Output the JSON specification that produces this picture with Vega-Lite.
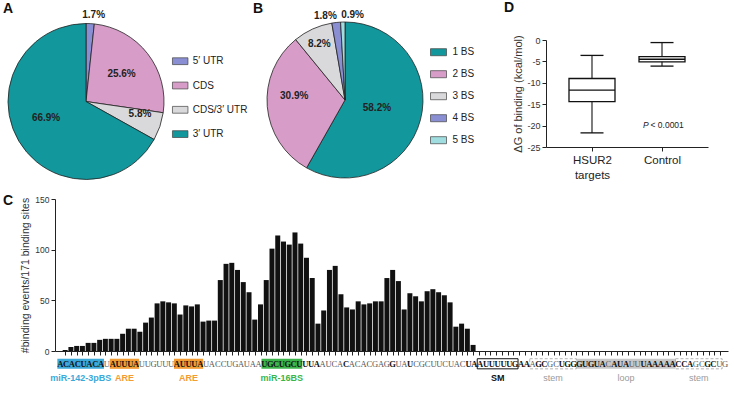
{
  "$schema": "https://vega.github.io/schema/vega-lite/v6.json",
  "padding": {"left": 3, "top": 0, "right": 0, "bottom": 0},
  "background": "white",
  "config": {
    "view": {"stroke": null},
    "font": "Liberation Sans",
    "axis": {"grid": false, "domainColor": "#222", "tickColor": "#222", "labelColor": "#333", "titleColor": "#333", "titleFontWeight": "normal", "minExtent": 0},
    "title": {"fontSize": 14, "fontWeight": "bold", "anchor": "start", "frame": "group", "color": "#111"}
  },
  "datasets": {
    "seq": [
      {"i":0,"nt":"A","b":1,"v":1},{"i":1,"nt":"C","b":1,"v":4},{"i":2,"nt":"A","b":1,"v":5},{"i":3,"nt":"C","b":1,"v":5},
      {"i":4,"nt":"U","b":1,"v":8},{"i":5,"nt":"A","b":1,"v":8},{"i":6,"nt":"C","b":1,"v":11},{"i":7,"nt":"A","b":1,"v":12},
      {"i":8,"nt":"U","b":0,"v":12},{"i":9,"nt":"A","b":1,"v":12},{"i":10,"nt":"U","b":1,"v":17},{"i":11,"nt":"U","b":1,"v":22},
      {"i":12,"nt":"U","b":1,"v":22},{"i":13,"nt":"A","b":1,"v":19},{"i":14,"nt":"U","b":0,"v":28},{"i":15,"nt":"U","b":0,"v":33},
      {"i":16,"nt":"G","b":0,"v":47},{"i":17,"nt":"U","b":0,"v":49},{"i":18,"nt":"U","b":0,"v":48},{"i":19,"nt":"U","b":0,"v":47},
      {"i":20,"nt":"A","b":1,"v":36},{"i":21,"nt":"U","b":1,"v":45},{"i":22,"nt":"U","b":1,"v":44},{"i":23,"nt":"U","b":1,"v":46},
      {"i":24,"nt":"A","b":1,"v":29},{"i":25,"nt":"U","b":0,"v":30},{"i":26,"nt":"A","b":0,"v":30},{"i":27,"nt":"C","b":0,"v":70},
      {"i":28,"nt":"C","b":0,"v":86},{"i":29,"nt":"U","b":0,"v":87},{"i":30,"nt":"G","b":0,"v":80},{"i":31,"nt":"A","b":0,"v":68},
      {"i":32,"nt":"U","b":0,"v":58},{"i":33,"nt":"A","b":0,"v":31},{"i":34,"nt":"A","b":0,"v":46},{"i":35,"nt":"U","b":1,"v":70},
      {"i":36,"nt":"G","b":1,"v":101},{"i":37,"nt":"C","b":1,"v":114},{"i":38,"nt":"U","b":1,"v":108},{"i":39,"nt":"G","b":1,"v":105},
      {"i":40,"nt":"C","b":1,"v":117},{"i":41,"nt":"U","b":1,"v":106},{"i":42,"nt":"U","b":1,"v":92},{"i":43,"nt":"U","b":1,"v":72},
      {"i":44,"nt":"A","b":1,"v":27},{"i":45,"nt":"A","b":0,"v":40},{"i":46,"nt":"U","b":0,"v":80},{"i":47,"nt":"C","b":0,"v":84},
      {"i":48,"nt":"A","b":0,"v":56},{"i":49,"nt":"C","b":1,"v":43},{"i":50,"nt":"A","b":0,"v":41},{"i":51,"nt":"C","b":0,"v":49},
      {"i":52,"nt":"A","b":0,"v":46},{"i":53,"nt":"C","b":0,"v":47},{"i":54,"nt":"G","b":0,"v":49},{"i":55,"nt":"A","b":0,"v":49},
      {"i":56,"nt":"G","b":0,"v":72},{"i":57,"nt":"G","b":1,"v":80},{"i":58,"nt":"U","b":0,"v":69},{"i":59,"nt":"A","b":0,"v":41},
      {"i":60,"nt":"U","b":1,"v":57},{"i":61,"nt":"C","b":0,"v":54},{"i":62,"nt":"G","b":0,"v":49},{"i":63,"nt":"C","b":0,"v":59},
      {"i":64,"nt":"U","b":0,"v":61},{"i":65,"nt":"U","b":0,"v":58},{"i":66,"nt":"C","b":0,"v":55},{"i":67,"nt":"U","b":0,"v":48},
      {"i":68,"nt":"A","b":0,"v":24},{"i":69,"nt":"C","b":0,"v":27},{"i":70,"nt":"U","b":1,"v":22},{"i":71,"nt":"A","b":1,"v":6},
      {"i":72,"nt":"A","b":1,"v":0},{"i":73,"nt":"U","b":1,"v":0},{"i":74,"nt":"U","b":1,"v":0},{"i":75,"nt":"U","b":1,"v":0},
      {"i":76,"nt":"U","b":1,"v":0},{"i":77,"nt":"U","b":1,"v":0},{"i":78,"nt":"G","b":1,"v":0},{"i":79,"nt":"A","b":1,"v":0},
      {"i":80,"nt":"A","b":1,"v":0},{"i":81,"nt":"A","b":0,"v":0},{"i":82,"nt":"G","b":1,"v":0},{"i":83,"nt":"C","b":1,"v":0},
      {"i":84,"nt":"G","b":0,"v":0},{"i":85,"nt":"C","b":0,"v":0},{"i":86,"nt":"U","b":1,"v":0},{"i":87,"nt":"G","b":1,"v":0},
      {"i":88,"nt":"G","b":1,"v":0},{"i":89,"nt":"G","b":1,"v":0},{"i":90,"nt":"U","b":1,"v":0},{"i":91,"nt":"G","b":1,"v":0},
      {"i":92,"nt":"U","b":1,"v":0},{"i":93,"nt":"A","b":1,"v":0},{"i":94,"nt":"C","b":0,"v":0},{"i":95,"nt":"A","b":1,"v":0},
      {"i":96,"nt":"U","b":1,"v":0},{"i":97,"nt":"A","b":1,"v":0},{"i":98,"nt":"U","b":0,"v":0},{"i":99,"nt":"U","b":0,"v":0},
      {"i":100,"nt":"U","b":1,"v":0},{"i":101,"nt":"A","b":1,"v":0},{"i":102,"nt":"A","b":1,"v":0},{"i":103,"nt":"A","b":1,"v":0},
      {"i":104,"nt":"A","b":1,"v":0},{"i":105,"nt":"A","b":1,"v":0},{"i":106,"nt":"C","b":1,"v":0},{"i":107,"nt":"C","b":1,"v":0},
      {"i":108,"nt":"A","b":1,"v":0},{"i":109,"nt":"G","b":0,"v":0},{"i":110,"nt":"C","b":0,"v":0},{"i":111,"nt":"G","b":1,"v":0},
      {"i":112,"nt":"C","b":1,"v":0},{"i":113,"nt":"U","b":0,"v":0},{"i":114,"nt":"G","b":0,"v":0}
    ],
    "regions": [
      {"name":"miR-142-3pBS","kind":"mir142","s":0,"e":7},
      {"name":"ARE","kind":"are","s":9,"e":13},
      {"name":"ARE","kind":"are","s":20,"e":24},
      {"name":"miR-16BS","kind":"mir16","s":35,"e":41},
      {"name":"SM","kind":"sm","s":72,"e":78},
      {"name":"stem","kind":"stem","s":81,"e":88},
      {"name":"loop","kind":"loop","s":89,"e":105},
      {"name":"stem","kind":"stem","s":106,"e":113}
    ]
  },
  "spacing": 12,
  "resolve": {"scale": {"color": "independent", "x": "independent", "y": "independent", "theta": "independent"}, "legend": {"color": "independent"}},
  "vconcat": [
    {
      "spacing": 29,
      "resolve": {"scale": {"color": "independent", "x": "independent", "y": "independent", "theta": "independent"}, "legend": {"color": "independent"}},
      "hconcat": [
        {
          "spacing": 5,
          "resolve": {"scale": {"color": "independent", "theta": "independent"}, "legend": {"color": "independent"}},
          "hconcat": [
            {
              "title": {"text": "A", "dx": -52, "offset": -6.5},
              "width": 62, "height": 123,
              "data": {"values": [
                {"region": "5′ UTR", "pct": 1.7, "o": 1, "lab": "1.7%"},
                {"region": "CDS", "pct": 25.6, "o": 2, "lab": "25.6%"},
                {"region": "CDS/3′ UTR", "pct": 5.8, "o": 3, "lab": "5.8%"},
                {"region": "3′ UTR", "pct": 66.9, "o": 4, "lab": "66.9%"}
              ]},
              "transform": [
                {"stack": "pct", "groupby": [], "sort": [{"field": "o", "order": "ascending"}], "as": ["p0", "p1"]},
                {"calculate": "(datum.p0 + datum.p1) / 2", "as": "pm"}
              ],
              "layer": [
                {"mark": {"type": "arc", "outerRadius": 78, "stroke": "#222", "strokeWidth": 0.8},
                 "encoding": {
                   "theta": {"field": "p0", "type": "quantitative", "scale": {"domain": [0, 100]}},
                   "theta2": {"field": "p1"},
                   "color": {"field": "region", "type": "nominal",
                   "scale": {"domain": ["5′ UTR", "CDS", "CDS/3′ UTR", "3′ UTR"], "range": ["#8a8fd3", "#d89cc8", "#d9d9db", "#12979c"]},
                   "legend": {"orient": "none", "legendX": 116.7, "legendY": 12.7, "title": null, "symbolType": "M-1,-0.44H1V0.44H-1Z", "symbolSize": 240, "symbolStrokeColor": "#444", "symbolStrokeWidth": 0.7, "symbolOpacity": 1, "labelFontSize": 10, "labelColor": "#222", "rowPadding": 10.3, "labelOffset": 4}}}},
                {"transform": [{"filter": "datum.o == 1"}],
                 "mark": {"type": "text", "radius": 87, "dx": 3, "fontSize": 10, "fontWeight": "bold", "color": "#222"},
                 "encoding": {"theta": {"field": "pm", "type": "quantitative", "scale": {"domain": [0, 100]}}, "text": {"field": "lab"}}},
                {"transform": [{"filter": "datum.o == 2"}],
                 "mark": {"type": "text", "radius": 45, "fontSize": 10, "fontWeight": "bold", "color": "#222"},
                 "encoding": {"theta": {"field": "pm", "type": "quantitative", "scale": {"domain": [0, 100]}}, "text": {"field": "lab"}}},
                {"transform": [{"filter": "datum.o == 3"}],
                 "mark": {"type": "text", "radius": 57, "dy": -6, "fontSize": 10, "fontWeight": "bold", "color": "#222"},
                 "encoding": {"theta": {"field": "pm", "type": "quantitative", "scale": {"domain": [0, 100]}}, "text": {"field": "lab"}}},
                {"transform": [{"filter": "datum.o == 4"}],
                 "mark": {"type": "text", "radius": 44, "dx": -2, "dy": -6, "fontSize": 10, "fontWeight": "bold", "color": "#222"},
                 "encoding": {"theta": {"field": "pm", "type": "quantitative", "scale": {"domain": [0, 100]}}, "text": {"field": "lab"}}}
              ]
            },
            {
              "title": {"text": "B", "dx": -14, "offset": -6},
              "width": 156, "height": 120,
              "data": {"values": [
                {"bs": "1 BS", "pct": 58.2, "o": 1, "lab": "58.2%"},
                {"bs": "2 BS", "pct": 30.9, "o": 2, "lab": "30.9%"},
                {"bs": "3 BS", "pct": 8.2, "o": 3, "lab": "8.2%"},
                {"bs": "4 BS", "pct": 1.8, "o": 4, "lab": "1.8%"},
                {"bs": "5 BS", "pct": 0.9, "o": 5, "lab": "0.9%"}
              ]},
              "transform": [
                {"stack": "pct", "groupby": [], "sort": [{"field": "o", "order": "ascending"}], "as": ["p0", "p1"]},
                {"calculate": "(datum.p0 + datum.p1) / 2", "as": "pm"}
              ],
              "layer": [
                {"mark": {"type": "arc", "outerRadius": 78, "stroke": "#222", "strokeWidth": 0.8},
                 "encoding": {
                   "theta": {"field": "p0", "type": "quantitative", "scale": {"domain": [0, 100]}},
                   "theta2": {"field": "p1"},
                   "color": {"field": "bs", "type": "nominal",
                   "scale": {"domain": ["1 BS", "2 BS", "3 BS", "4 BS", "5 BS"], "range": ["#12979c", "#d89cc8", "#d9d9db", "#8a8fd3", "#9fdde0"]},
                   "legend": {"orient": "none", "legendX": 163, "legendY": 3.7, "title": null, "symbolType": "M-1,-0.44H1V0.44H-1Z", "symbolSize": 256, "symbolStrokeColor": "#444", "symbolStrokeWidth": 0.7, "symbolOpacity": 1, "labelFontSize": 10, "labelColor": "#222", "rowPadding": 8, "labelOffset": 5.5}}}},
                {"transform": [{"filter": "datum.o == 1"}],
                 "mark": {"type": "text", "radius": 33, "fontSize": 10, "fontWeight": "bold", "color": "#222"},
                 "encoding": {"theta": {"field": "pm", "type": "quantitative", "scale": {"domain": [0, 100]}}, "text": {"field": "lab"}}},
                {"transform": [{"filter": "datum.o == 2"}],
                 "mark": {"type": "text", "radius": 51, "dy": -8, "fontSize": 10, "fontWeight": "bold", "color": "#222"},
                 "encoding": {"theta": {"field": "pm", "type": "quantitative", "scale": {"domain": [0, 100]}}, "text": {"field": "lab"}}},
                {"transform": [{"filter": "datum.o == 3"}],
                 "mark": {"type": "text", "radius": 62, "fontSize": 10, "fontWeight": "bold", "color": "#222"},
                 "encoding": {"theta": {"field": "pm", "type": "quantitative", "scale": {"domain": [0, 100]}}, "text": {"field": "lab"}}},
                {"transform": [{"filter": "datum.o == 4"}],
                 "mark": {"type": "text", "radius": 85, "dx": -10, "fontSize": 10, "fontWeight": "bold", "color": "#222"},
                 "encoding": {"theta": {"field": "pm", "type": "quantitative", "scale": {"domain": [0, 100]}}, "text": {"field": "lab"}}},
                {"transform": [{"filter": "datum.o == 5"}],
                 "mark": {"type": "text", "radius": 85, "dx": 10, "fontSize": 10, "fontWeight": "bold", "color": "#222"},
                 "encoding": {"theta": {"field": "pm", "type": "quantitative", "scale": {"domain": [0, 100]}}, "text": {"field": "lab"}}}
              ]
            }
          ]
        },
        {
          "title": {"text": "D", "dx": -42, "offset": 20},
          "width": 162, "height": 107,
          "data": {"values": [
            {"g": "HSUR2 targets", "min": -21.7, "q1": -14.4, "med": -11.7, "q3": -9.0, "max": -3.6},
            {"g": "Control", "min": -6.1, "q1": -5.1, "med": -4.5, "q3": -3.9, "max": -0.6}
          ]},
          "encoding": {
            "x": {"field": "g", "type": "nominal", "sort": null, "scale": {"type": "point", "padding": 0.657},
              "axis": {"title": null, "labelAngle": 0, "labelFontSize": 11.5, "labelColor": "#222", "labelPadding": 3, "tickSize": 4, "labelLineHeight": 15,
                "labelExpr": "datum.value == 'HSUR2 targets' ? ['HSUR2', 'targets'] : datum.value"}}
          },
          "layer": [
            {"mark": {"type": "rule", "stroke": "#111", "strokeWidth": 1.1},
             "encoding": {"y": {"field": "min", "type": "quantitative", "scale": {"domain": [-25, 0], "nice": false},
               "axis": {"title": "ΔG of binding (kcal/mol)", "titleFontSize": 11, "titlePadding": 3, "values": [0, -5, -10, -15, -20, -25], "labelExpr": "'' + datum.value", "labelFontSize": 9, "tickSize": 4, "labelPadding": 2}},
               "y2": {"field": "max"}}},
            {"mark": {"type": "bar", "width": 46, "fill": "white", "stroke": "#111", "strokeWidth": 1.3},
             "encoding": {"y": {"field": "q1", "type": "quantitative", "scale": {"domain": [-25, 0], "nice": false},
               "axis": {"title": "ΔG of binding (kcal/mol)", "titleFontSize": 11, "titlePadding": 3, "values": [0, -5, -10, -15, -20, -25], "labelExpr": "'' + datum.value", "labelFontSize": 9, "tickSize": 4, "labelPadding": 2}},
               "y2": {"field": "q3"}}},
            {"mark": {"type": "tick", "size": 46, "thickness": 1.3, "color": "#111", "opacity": 1},
             "encoding": {"y": {"field": "med", "type": "quantitative", "scale": {"domain": [-25, 0], "nice": false},
               "axis": {"title": "ΔG of binding (kcal/mol)", "titleFontSize": 11, "titlePadding": 3, "values": [0, -5, -10, -15, -20, -25], "labelExpr": "'' + datum.value", "labelFontSize": 9, "tickSize": 4, "labelPadding": 2}}}},
            {"mark": {"type": "tick", "size": 23, "thickness": 1.3, "color": "#111", "opacity": 1},
             "encoding": {"y": {"field": "min", "type": "quantitative", "scale": {"domain": [-25, 0], "nice": false},
               "axis": {"title": "ΔG of binding (kcal/mol)", "titleFontSize": 11, "titlePadding": 3, "values": [0, -5, -10, -15, -20, -25], "labelExpr": "'' + datum.value", "labelFontSize": 9, "tickSize": 4, "labelPadding": 2}}}},
            {"mark": {"type": "tick", "size": 23, "thickness": 1.3, "color": "#111", "opacity": 1},
             "encoding": {"y": {"field": "max", "type": "quantitative", "scale": {"domain": [-25, 0], "nice": false},
               "axis": {"title": "ΔG of binding (kcal/mol)", "titleFontSize": 11, "titlePadding": 3, "values": [0, -5, -10, -15, -20, -25], "labelExpr": "'' + datum.value", "labelFontSize": 9, "tickSize": 4, "labelPadding": 2}}}},
            {"data": {"values": [{"g": "Control", "y": -19.8, "t": "P"}]},
             "mark": {"type": "text", "align": "left", "dx": -19, "fontSize": 8.5, "fontStyle": "italic", "color": "#222"},
             "encoding": {"y": {"field": "y", "type": "quantitative", "scale": {"domain": [-25, 0], "nice": false},
               "axis": {"title": "ΔG of binding (kcal/mol)", "titleFontSize": 11, "titlePadding": 3, "values": [0, -5, -10, -15, -20, -25], "labelExpr": "'' + datum.value", "labelFontSize": 9, "tickSize": 4, "labelPadding": 2}}, "text": {"field": "t"}}},
            {"data": {"values": [{"g": "Control", "y": -19.8, "t": "< 0.0001"}]},
             "mark": {"type": "text", "align": "left", "dx": -11.5, "fontSize": 8.5, "color": "#222"},
             "encoding": {"y": {"field": "y", "type": "quantitative", "scale": {"domain": [-25, 0], "nice": false},
               "axis": {"title": "ΔG of binding (kcal/mol)", "titleFontSize": 11, "titlePadding": 3, "values": [0, -5, -10, -15, -20, -25], "labelExpr": "'' + datum.value", "labelFontSize": 9, "tickSize": 4, "labelPadding": 2}}, "text": {"field": "t"}}}
          ]
        }
      ]
    },
    {
      "spacing": 2,
      "resolve": {"scale": {"x": "independent", "y": "independent", "color": "independent"}},
      "vconcat": [
        {
          "title": {"text": "C", "dx": -52, "offset": -13},
          "width": 673, "height": 152,
          "data": {"name": "seq"},
          "mark": {"type": "bar", "width": 5.0, "color": "#111"},
          "encoding": {
            "x": {"field": "i", "type": "quantitative", "scale": {"domain": [-0.9, 114.5], "nice": false, "zero": false},
              "axis": {"title": null, "labels": false, "tickSize": 4,
                "values": [0,1,2,3,4,5,6,7,8,9,10,11,12,13,14,15,16,17,18,19,20,21,22,23,24,25,26,27,28,29,30,31,32,33,34,35,36,37,38,39,40,41,42,43,44,45,46,47,48,49,50,51,52,53,54,55,56,57,58,59,60,61,62,63,64,65,66,67,68,69,70,71,72,73,74,75,76,77,78,79,80,81,82,83,84,85,86,87,88,89,90,91,92,93,94,95,96,97,98,99,100,101,102,103,104,105,106,107,108,109,110,111,112,113,114]}},
            "y": {"field": "v", "type": "quantitative", "scale": {"domain": [0, 150], "nice": false},
              "axis": {"values": [0, 50, 100, 150], "title": "#binding events/171 binding sites", "titleFontSize": 10.5, "titlePadding": 4, "labelFontSize": 8.5, "tickSize": 4, "labelPadding": 2}}
          }
        },
        {
          "width": 673, "height": 26,
          "layer": [
            {"data": {"name": "regions"},
             "transform": [{"filter": "datum.kind == 'mir142' || datum.kind == 'are' || datum.kind == 'mir16' || datum.kind == 'loop'"}],
             "mark": {"type": "rect", "xOffset": -2.9, "x2Offset": 2.9},
             "encoding": {
               "x": {"field": "s", "type": "quantitative", "scale": {"domain": [-0.9, 114.5], "nice": false, "zero": false},
                 "axis": {"title": "HSUR2 sequence", "labels": false, "ticks": false, "domain": false, "titleFontSize": 11, "titlePadding": 2, "titleColor": "#222"}},
               "x2": {"field": "e"},
               "y": {"datum": "seq", "type": "nominal", "scale": {"domain": ["seq", "ann"], "paddingInner": 0.3, "paddingOuter": 0.05}, "axis": null},
               "fill": {"field": "kind", "type": "nominal", "scale": {"domain": ["mir142", "are", "mir16", "loop"], "range": ["#3ba9d9", "#f39c33", "#3bb54a", "#c8c8c8"]}, "legend": null}
             }},
            {"data": {"name": "regions"},
             "transform": [{"filter": "datum.kind == 'sm'"}],
             "mark": {"type": "rect", "xOffset": -2.9, "x2Offset": 2.9, "fill": null, "stroke": "#111", "strokeWidth": 1},
             "encoding": {
               "x": {"field": "s", "type": "quantitative", "scale": {"domain": [-0.9, 114.5], "nice": false, "zero": false}, "axis": null},
               "x2": {"field": "e"},
               "y": {"datum": "seq", "type": "nominal", "scale": {"domain": ["seq", "ann"], "paddingInner": 0.3, "paddingOuter": 0.05}, "axis": null}
             }},
            {"data": {"name": "regions"},
             "transform": [{"filter": "datum.kind == 'stem'"}],
             "mark": {"type": "rect", "xOffset": -2.9, "x2Offset": 2.9, "fill": null, "stroke": "#aaa", "strokeWidth": 0.9, "strokeDash": [3, 2]},
             "encoding": {
               "x": {"field": "s", "type": "quantitative", "scale": {"domain": [-0.9, 114.5], "nice": false, "zero": false}, "axis": null},
               "x2": {"field": "e"},
               "y": {"datum": "seq", "type": "nominal", "scale": {"domain": ["seq", "ann"], "paddingInner": 0.3, "paddingOuter": 0.05}, "axis": null}
             }},
            {"data": {"name": "seq"},
             "transform": [{"filter": "datum.b == 1"}],
             "mark": {"type": "text", "font": "Liberation Serif", "fontSize": 8.5, "fontWeight": "bold", "color": "#111", "baseline": "middle"},
             "encoding": {
               "x": {"field": "i", "type": "quantitative", "scale": {"domain": [-0.9, 114.5], "nice": false, "zero": false}, "axis": null},
               "y": {"datum": "seq", "type": "nominal", "scale": {"domain": ["seq", "ann"], "paddingInner": 0.3, "paddingOuter": 0.05}, "axis": null},
               "text": {"field": "nt"}
             }},
            {"data": {"name": "seq"},
             "transform": [{"filter": "datum.b == 0"}],
             "mark": {"type": "text", "font": "Liberation Serif", "fontSize": 8.5, "color": "#555", "baseline": "middle"},
             "encoding": {
               "x": {"field": "i", "type": "quantitative", "scale": {"domain": [-0.9, 114.5], "nice": false, "zero": false}, "axis": null},
               "y": {"datum": "seq", "type": "nominal", "scale": {"domain": ["seq", "ann"], "paddingInner": 0.3, "paddingOuter": 0.05}, "axis": null},
               "text": {"field": "nt"}
             }},
            {"data": {"name": "regions"},
             "transform": [{"calculate": "(datum.s + datum.e) / 2", "as": "mid"}, {"filter": "datum.kind != 'stem' && datum.kind != 'loop'"}],
             "mark": {"type": "text", "fontSize": 9, "fontWeight": "bold", "baseline": "middle"},
             "encoding": {
               "x": {"field": "mid", "type": "quantitative", "scale": {"domain": [-0.9, 114.5], "nice": false, "zero": false}, "axis": null},
               "y": {"datum": "ann", "type": "nominal", "scale": {"domain": ["seq", "ann"], "paddingInner": 0.3, "paddingOuter": 0.05}, "axis": null},
               "text": {"field": "name"},
               "color": {"field": "kind", "type": "nominal", "scale": {"domain": ["mir142", "are", "mir16", "sm", "stem", "loop"], "range": ["#3ba9d9", "#f39c33", "#3bb54a", "#111111", "#9a9a9a", "#9a9a9a"]}, "legend": null}
             }},
            {"data": {"name": "regions"},
             "transform": [{"calculate": "(datum.s + datum.e) / 2", "as": "mid"}, {"filter": "datum.kind == 'stem' || datum.kind == 'loop'"}],
             "mark": {"type": "text", "fontSize": 9, "baseline": "middle", "color": "#9a9a9a"},
             "encoding": {
               "x": {"field": "mid", "type": "quantitative", "scale": {"domain": [-0.9, 114.5], "nice": false, "zero": false}, "axis": null},
               "y": {"datum": "ann", "type": "nominal", "scale": {"domain": ["seq", "ann"], "paddingInner": 0.3, "paddingOuter": 0.05}, "axis": null},
               "text": {"field": "name"}
             }}
          ]
        }
      ]
    }
  ]
}
